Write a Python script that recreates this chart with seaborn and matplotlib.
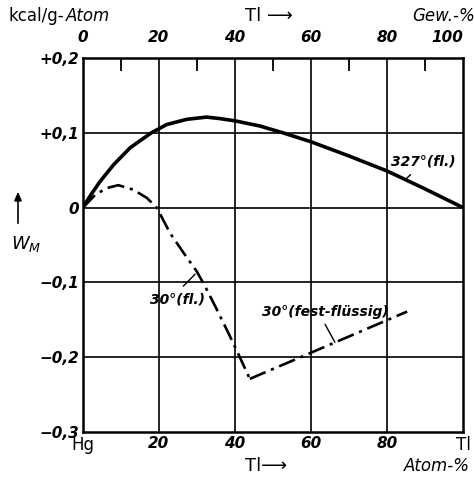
import matplotlib
matplotlib.use("Agg")
import matplotlib.pyplot as plt
import seaborn as sns
import pandas as pd

# Heat of mixing W_M of Hg-Tl melts, kcal/g-Atom versus Tl content (Atom-%)
x_327 = [0, 1.8, 4.5, 8, 12.4, 18, 22, 27.3, 32.5, 36, 40, 46.6, 52.6, 60, 70, 80, 90, 100]
w_327 = [0, 0.015, 0.035, 0.057, 0.080, 0.100, 0.111, 0.118, 0.121, 0.119, 0.116,
         0.109, 0.100, 0.088, 0.069, 0.049, 0.025, 0]

x_30_liq = [0, 3.2, 6.2, 9.3, 13.2, 16.8, 19.4, 22.9, 26.4, 29.9, 32.1, 35.2, 38.2, 40.9, 43.9]
w_30_liq = [0, 0.017, 0.026, 0.030, 0.024, 0.013, 0, -0.034, -0.060, -0.085,
            -0.105, -0.136, -0.167, -0.196, -0.229]

x_30_sl = [43.9, 85.3]
w_30_sl = [-0.229, -0.139]

y_ticks = [0.2, 0.1, 0, -0.1, -0.2, -0.3]
y_labels = ["+0,2", "+0,1", "0", "\u22120,1", "\u22120,2", "\u22120,3"]
x_ticks = [0, 20, 40, 60, 80, 100]
x_bottom_labels = ["Hg", "20", "40", "60", "80", "Tl"]
x_top_labels = ["0", "20", "40", "60", "80", "100"]
x_top_minor = [10, 30, 50, 70, 90]

sns.set_style("white")
plt.rcParams["font.family"] = ["DejaVu Sans"]
plt.rcParams["text.color"] = "black"
plt.rcParams["xtick.color"] = "black"
plt.rcParams["ytick.color"] = "black"

fig = plt.figure(figsize=(4.74, 4.78), dpi=100)
ax = fig.add_axes([83 / 474, 1 - 432 / 478, 380 / 474, 374 / 478])

df327 = pd.DataFrame({"x": x_327, "w": w_327})
dfl = pd.DataFrame({"x": x_30_liq, "w": w_30_liq})
dfs = pd.DataFrame({"x": x_30_sl, "w": w_30_sl})

sns.lineplot(data=df327, x="x", y="w", ax=ax, color="black", lw=2.6,
             sort=False, estimator=None, solid_joinstyle="round")
dash = (0, (6.5, 2.2, 1.2, 2.2))
sns.lineplot(data=dfl, x="x", y="w", ax=ax, color="black", lw=1.9,
             sort=False, estimator=None, linestyle=dash)
sns.lineplot(data=dfs, x="x", y="w", ax=ax, color="black", lw=1.9,
             sort=False, estimator=None, linestyle=dash)

ax.set_xlim(0, 100)
ax.set_ylim(-0.3, 0.2)
ax.set_xlabel("")
ax.set_ylabel("")

# grid
for gx in [20, 40, 60, 80]:
    ax.axvline(gx, color="black", lw=1.2, zorder=0)
for gy in [0.1, 0, -0.1, -0.2]:
    ax.axhline(gy, color="black", lw=1.2, zorder=0)

for s in ax.spines.values():
    s.set_color("black")
    s.set_linewidth(1.8)

num_font = dict(style="italic", weight="bold", size=11, color="black")

ax.set_yticks(y_ticks)
ax.set_yticklabels(y_labels, **num_font)
ax.set_xticks(x_ticks)
ax.set_xticklabels(x_bottom_labels, **num_font)
for lab, t in zip(ax.get_xticklabels(), x_bottom_labels):
    if t in ("Hg", "Tl"):
        lab.set_style("normal")
        lab.set_weight("normal")
        lab.set_size(12)
ax.tick_params(axis="both", length=0, pad=3)

top = ax.secondary_xaxis("top")
top.set_xticks(x_ticks)
top.set_xticklabels(x_top_labels, **num_font)
top.tick_params(length=0, pad=9)
top.spines["top"].set_visible(False)
top.set_xticks(x_top_minor, minor=True)
top.tick_params(which="minor", direction="in", length=9, width=1.3, color="black")
top.get_xticklabels()[-1].set_horizontalalignment("right")

# headers and axis annotations
hy = 1 - 16 / 478
fig.text(8 / 474, hy, "kcal/g-", fontsize=12, va="center", ha="left")
fig.text(66 / 474, hy, "Atom", fontsize=12, style="italic", va="center", ha="left")
fig.text(245 / 474, hy, "Tl \u27f6", fontsize=13, va="center", ha="left")
fig.text(412 / 474, hy, "Gew.-%", fontsize=12, style="italic", va="center", ha="left")
fig.text(245 / 474, 1 - 466 / 478, "Tl\u27f6", fontsize=13, va="center", ha="left")
fig.text(470 / 474, 1 - 466 / 478, "Atom-%", fontsize=12, style="italic", va="center", ha="right")

fig.add_artist(matplotlib.patches.FancyArrowPatch(
    (18 / 474, 1 - 226 / 478), (18 / 474, 1 - 189 / 478),
    transform=fig.transFigure, arrowstyle="-|>,head_length=5,head_width=2.2",
    color="black", lw=1.2, mutation_scale=1))
fig.text(26 / 474, 1 - 244 / 478, "$W_M$", fontsize=13, va="center", ha="center")

# curve labels with leader lines
lab_font = dict(style="italic", size=10, weight="bold")
ax.text(89.5, 0.061, "327°(fl.)", ha="center", va="center", **lab_font)
ax.plot([84.7, 86.2], [0.037, 0.044], color="black", lw=1.0)
ax.text(24.8, -0.123, "30°(fl.)", ha="center", va="center", **lab_font)
ax.plot([26.4, 29.5], [-0.105, -0.089], color="black", lw=1.0)
ax.text(63.7, -0.139, "30°(fest-flüssig)", ha="center", va="center", **lab_font)
ax.plot([63.7, 66.3], [-0.156, -0.180], color="black", lw=1.0)

fig.savefig("out.png", dpi=100)
